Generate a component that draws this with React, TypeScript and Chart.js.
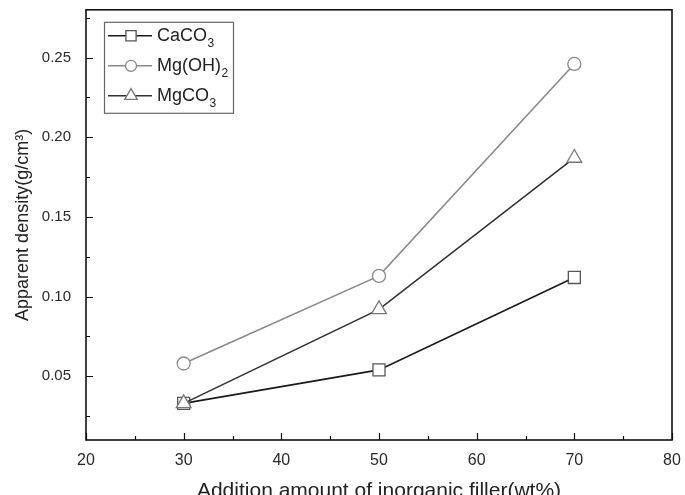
import React, { useEffect, useRef } from "react";
import { Chart, registerables } from "chart.js";
import { drawPoint } from "chart.js/helpers";

Chart.register(...registerables);

// ---- data ----
const fillerContent = [30, 50, 70];
const caco3Density = [0.033, 0.054, 0.112];
const mgoh2Density = [0.058, 0.113, 0.246];
const mgco3Density = [0.033, 0.092, 0.187];

const xTickValues = [20, 30, 40, 50, 60, 70, 80];
const xMinorValues = [25, 35, 45, 55, 65, 75];
const yTickValues = [0.05, 0.1, 0.15, 0.2, 0.25];
const yMinorValues = [0.025, 0.075, 0.125, 0.175, 0.225, 0.275];

const seriesNames = [
  { base: "CaCO", sub: "3" },
  { base: "Mg(OH)", sub: "2" },
  { base: "MgCO", sub: "3" },
];

const xTitle = "Addition amount of inorganic filler(wt%)";
const yTitle = "Apparent density(g/cm³)";

const FONT = "'Liberation Sans', Arial, Helvetica, sans-serif";

const toPoints = (ys: number[]) => fillerContent.map((x, i) => ({ x, y: ys[i] }));

const seriesStyles = [
  { line: "#1a1a1a", marker: "#555555", pointStyle: "rect", radius: 8.5 },
  { line: "#8a8a8a", marker: "#8a8a8a", pointStyle: "circle", radius: 6.5 },
  { line: "#333333", marker: "#777777", pointStyle: "triangle", radius: 8.5 },
];

const frameTicksPlugin = {
  id: "frameTicks",
  beforeDatasetsDraw(chart: any) {
    const { ctx, chartArea: a, scales } = chart;
    const xs = scales.x;
    const ys = scales.y;
    ctx.save();
    ctx.strokeStyle = "#111";
    ctx.lineWidth = 1.2;
    ctx.beginPath();
    xTickValues.forEach((v) => {
      const px = Math.round(xs.getPixelForValue(v)) + 0.5;
      ctx.moveTo(px, a.bottom);
      ctx.lineTo(px, a.bottom - 7);
    });
    xMinorValues.forEach((v) => {
      const px = Math.round(xs.getPixelForValue(v)) + 0.5;
      ctx.moveTo(px, a.bottom);
      ctx.lineTo(px, a.bottom - 4);
    });
    yTickValues.forEach((v) => {
      const py = Math.round(ys.getPixelForValue(v)) + 0.5;
      ctx.moveTo(a.left, py);
      ctx.lineTo(a.left + 7, py);
    });
    yMinorValues.forEach((v) => {
      const py = Math.round(ys.getPixelForValue(v)) + 0.5;
      ctx.moveTo(a.left, py);
      ctx.lineTo(a.left + 4, py);
    });
    ctx.stroke();
    ctx.lineWidth = 1.6;
    ctx.strokeRect(a.left, a.top, a.right - a.left, a.bottom - a.top);
    ctx.restore();
  },
};

const legendBoxPlugin = {
  id: "legendBox",
  afterDatasetsDraw(chart: any) {
    const { ctx, chartArea: a } = chart;
    const bx = a.left + 18;
    const by = a.top + 12;
    const bw = 129;
    const bh = 91;
    ctx.save();
    ctx.fillStyle = "#ffffff";
    ctx.fillRect(bx, by, bw, bh);
    ctx.strokeStyle = "#666";
    ctx.lineWidth = 1.2;
    ctx.strokeRect(bx + 0.5, by + 0.5, bw, bh);
    seriesNames.forEach((name, i) => {
      const st = seriesStyles[i];
      const cy = by + 14 + i * 30;
      ctx.strokeStyle = st.line;
      ctx.lineWidth = 1.5;
      ctx.beginPath();
      ctx.moveTo(bx + 4, cy);
      ctx.lineTo(bx + 48, cy);
      ctx.stroke();
      ctx.fillStyle = "#ffffff";
      ctx.strokeStyle = st.marker;
      ctx.lineWidth = 1.3;
      drawPoint(ctx, { pointStyle: st.pointStyle, radius: st.radius * 0.85, rotation: 0, borderWidth: 1.3 } as any, bx + 27, cy);
      ctx.fillStyle = "#222";
      ctx.textBaseline = "middle";
      ctx.textAlign = "left";
      ctx.font = `18px ${FONT}`;
      const tx = bx + 53;
      ctx.fillText(name.base, tx, cy);
      const w = ctx.measureText(name.base).width;
      ctx.font = `12px ${FONT}`;
      ctx.fillText(name.sub, tx + w + 0.5, cy + 8);
    });
    ctx.restore();
  },
};

export default function App() {
  const canvasRef = useRef<HTMLCanvasElement | null>(null);

  useEffect(() => {
    if (!canvasRef.current) return;
    const datasets = [caco3Density, mgoh2Density, mgco3Density].map((vals, i) => ({
      label: seriesNames[i].base + seriesNames[i].sub,
      data: toPoints(vals),
      borderColor: seriesStyles[i].line,
      borderWidth: 1.6,
      pointStyle: seriesStyles[i].pointStyle,
      pointRadius: seriesStyles[i].radius,
      pointBorderColor: seriesStyles[i].marker,
      pointBackgroundColor: "#ffffff",
      pointBorderWidth: 1.3,
      tension: 0,
      fill: false,
      order: 2 - i,
    }));

    const chart = new Chart(canvasRef.current, {
      type: "line",
      data: { datasets },
      plugins: [frameTicksPlugin, legendBoxPlugin],
      options: {
        animation: false,
        responsive: true,
        maintainAspectRatio: false,
        layout: { padding: { left: 0, top: 7, right: 13, bottom: 0 } },
        plugins: {
          legend: { display: false },
          tooltip: { enabled: false },
        },
        scales: {
          x: {
            type: "linear",
            min: 20,
            max: 80,
            afterBuildTicks: (scale: any) => {
              scale.ticks = xTickValues.map((v) => ({ value: v }));
            },
            afterFit: (scale: any) => {
              scale.height = 55;
              scale.paddingLeft = 0;
              scale.paddingRight = 0;
              scale.paddingTop = 0;
              scale.paddingBottom = 0;
            },
            grid: { display: false, drawTicks: false },
            border: { display: false },
            ticks: {
              padding: 11,
              color: "#2a2a2a",
              font: { family: FONT, size: 16 },
              maxRotation: 0,
            },
            title: {
              display: true,
              text: xTitle,
              color: "#222",
              font: { family: FONT, size: 21 },
              padding: { top: 0, bottom: -9 },
            },
          },
          y: {
            type: "linear",
            min: 0.01,
            max: 0.28,
            afterBuildTicks: (scale: any) => {
              scale.ticks = yTickValues.map((v) => ({ value: v }));
            },
            afterFit: (scale: any) => {
              scale.width = 86;
              scale.paddingLeft = 0;
              scale.paddingRight = 0;
              scale.paddingTop = 0;
              scale.paddingBottom = 0;
            },
            grid: { display: false, drawTicks: false },
            border: { display: false },
            ticks: {
              padding: 15,
              color: "#2a2a2a",
              font: { family: FONT, size: 15 },
              callback: (v: any) => Number(v).toFixed(2),
            },
            title: {
              display: true,
              text: yTitle,
              color: "#222",
              font: { family: FONT, size: 18 },
              padding: { top: 12, bottom: 0 },
            },
          },
        },
      },
    });
    return () => chart.destroy();
  }, []);

  return (
    <div style={{ position: "fixed", left: 0, top: 0, width: 685, height: 495, background: "#fff" }}>
      <canvas ref={canvasRef} />
    </div>
  );
}
